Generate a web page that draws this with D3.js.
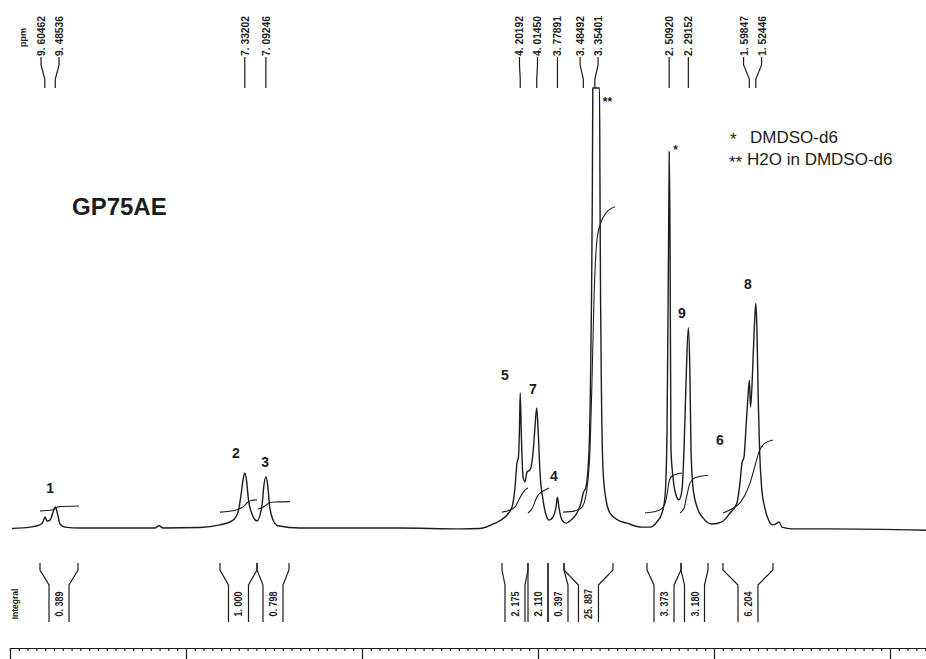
<!DOCTYPE html>
<html>
<head>
<meta charset="utf-8">
<script src="https://cdn.jsdelivr.net/npm/d3@7/dist/d3.min.js"></script>
<style>
body { margin: 0; background: #fff; }
svg { display: block; font-family: "Liberation Sans", Arial, sans-serif; }
</style>
</head>
<body>
<div id="spectrum"></div>
<script>
// Traced 1H spectrum: shift (ppm) and relative intensity
const specPpm = [9.977, 9.773, 9.659, 9.625, 9.602, 9.580, 9.545, 9.511, 9.485, 9.460, 9.432, 9.375, 9.205,
    8.352, 8.307, 8.261, 7.841, 7.614, 7.477, 7.409, 7.375, 7.352, 7.332, 7.313, 7.290, 7.250, 7.193,
    7.136, 7.114, 7.092, 7.072, 7.051, 7.011, 6.955, 6.705, 5.568, 4.886,
    4.659, 4.489, 4.375, 4.295, 4.261, 4.239, 4.222, 4.210, 4.202, 4.190, 4.170, 4.148, 4.125, 4.091,
    4.057, 4.034, 4.015, 3.997, 3.977, 3.943, 3.909, 3.875, 3.830, 3.795, 3.779, 3.761, 3.727, 3.682,
    3.625, 3.557, 3.511, 3.485, 3.455, 3.420, 3.403, 3.392, 3.383, 3.377, 3.301, 3.295, 3.289, 3.278,
    3.261, 3.227, 3.182, 3.091, 2.989, 2.818, 2.727, 2.648, 2.591, 2.557, 2.534, 2.517, 2.508, 2.499,
    2.489, 2.466, 2.432, 2.398, 2.364, 2.341, 2.318, 2.292, 2.275, 2.261, 2.239, 2.193, 2.125, 2.023,
    1.909, 1.818, 1.739, 1.705, 1.682, 1.659, 1.636, 1.614, 1.598, 1.585, 1.568, 1.550, 1.535, 1.524,
    1.512, 1.497, 1.482, 1.459, 1.425, 1.380, 1.330, 1.284, 1.261, 1.227, 1.114, 0.682, -0.409];
const specInt = [-0.1, 0.2, 0.7, 1.4, 2.5, 1.6, 1.8, 3.6, 4.8, 3.2, 0.9, 0.2, 0,
    0, 0.5, 0, 0.1, 0.7, 1.6, 3.6, 7.5, 10.9, 12.5, 10.9, 6.4, 3.2, 1.6,
    5.2, 9.8, 11.6, 9.8, 5.2, 1.8, 0.5, 0, 0, -0.2,
    -0.1, 1.1, 2.5, 4.8, 9.3, 14.8, 16.1, 23.0, 30.7, 21.6, 11.6, 10.5, 12.7, 13.2,
    17.0, 23.0, 27.3, 21.6, 12.5, 6.4, 3.0, 1.8, 2.5, 4.8, 7.0, 4.5, 1.8, 1.1,
    1.8, 3.4, 5.7, 8.0, 9.3, 17.7, 33.6, 51.8, 74.5, 100, 100, 74.5, 51.8, 29.1,
    13.2, 6.4, 3.4, 1.8, 1.1, 0.2, 0.2, 1.4, 3.4, 7.0, 21.6, 63.2, 85.5, 63.2,
    17.7, 11.6, 7.5, 6.4, 8.6, 17.7, 33.0, 45.5, 36.6, 17.7, 9.3, 4.8, 2.3, 0.9,
    1.4, 3.4, 5.7, 10.2, 14.8, 16.1, 23.0, 29.8, 33.6, 27.5, 32.5, 41.6, 48.4, 51.1,
    45.0, 29.1, 17.7, 9.3, 4.8, 1.8, 0.7, 1.1, 1.4, 0.2, -0.2, -0.2, -0.5];

// Integral traces drawn over the peaks
const integralPpm = [
    [9.659, 9.523, 9.489, 9.455, 9.216],
    [7.614, 7.432, 7.352, 7.295, 7.250, 7.193],
    [7.182, 7.125, 7.091, 7.057, 6.989, 6.818],
    [4.409, 4.318, 4.261, 4.216, 4.182, 4.148, 4.114],
    [4.114, 4.057, 4.023, 3.989, 3.943, 3.875],
    [3.716, 3.580, 3.511, 3.466, 3.432, 3.409, 3.386, 3.364, 3.330, 3.284, 3.227, 3.125],
    [2.784, 2.636, 2.568, 2.534, 2.511, 2.477, 2.364],
    [2.386, 2.341, 2.307, 2.273, 2.216, 2.068],
    [1.898, 1.784, 1.705, 1.648, 1.591, 1.534, 1.489, 1.432, 1.330]
];
const integralInt = [
    [3.9, 4.1, 4.4, 4.8, 5.0],
    [3.6, 4.1, 4.8, 5.9, 6.3, 6.4],
    [4.3, 4.7, 5.2, 5.7, 5.9, 6.0],
    [3.6, 4.1, 4.8, 6.4, 7.7, 8.6, 9.1],
    [3.4, 4.8, 6.6, 7.7, 8.4, 9.1],
    [3.6, 3.9, 4.5, 6.4, 10.9, 17.7, 33.6, 51.8, 65.5, 69.5, 71.6, 73.0],
    [3.4, 3.9, 5.0, 7.5, 10.5, 11.8, 12.5],
    [3.4, 4.5, 7.5, 10.2, 11.4, 12.0],
    [3.4, 4.5, 5.7, 7.5, 10.2, 14.1, 17.3, 19.1, 20.0]
];

// Integration regions and their values
const regionFrom = [9.659, 7.614, 7.193, 4.409, 4.114, 3.886, 3.705, 2.761, 2.375, 1.898];
const regionTo = [9.227, 7.193, 6.830, 4.114, 3.886, 3.705, 3.148, 2.375, 2.068, 1.330];
const regionValues = ["0.389", "1.000", "0.798", "2.175", "2.110", "0.397", "25.887", "3.373", "3.180", "6.204"];

// Picked peaks
const pickedPeaks = [9.60462, 9.48536, 7.33202, 7.09246, 4.20192, 4.01450, 3.77891, 3.48492, 3.35401,
    2.50920, 2.29152, 1.59847, 1.52446];

// Assignment numbers (ppm, intensity where they sit)
const numLabels = ["1", "2", "3", "4", "5", "6", "7", "8", "9"];
const numPpm = [9.545, 7.432, 7.102, 3.818, 4.375, 1.932, 4.057, 1.614, 2.364];
const numInt = [8.0, 15.9, 13.9, 10.7, 33.6, 18.9, 30.5, 54.3, 47.7];

const width = 926, height = 659;
const ink = "#1c1c1c";

const svg = d3.select("#spectrum")
    .append("svg")
        .attr("width", width)
        .attr("height", height);

const x = d3.scaleLinear().domain([10, 0]).range([10, 890]);
const y = d3.scaleLinear().domain([0, 100]).range([528, 88]);

// spectrum
const line = d3.line()
    .curve(d3.curveMonotoneX)
    .x(d => x(d[0]))
    .y(d => y(d[1]));

svg.append("path")
    .datum(specPpm.map((p, i) => [p, specInt[i]]).reverse())
    .attr("fill", "none")
    .attr("stroke", ink)
    .attr("stroke-width", 1.4)
    .attr("stroke-linejoin", "round")
    .attr("d", line);

// integral curves
svg.selectAll(".integral")
    .data(integralPpm.map((ps, k) => ps.map((p, i) => [p, integralInt[k][i]]).reverse()))
    .enter().append("path")
    .attr("fill", "none")
    .attr("stroke", ink)
    .attr("stroke-width", 1.1)
    .attr("d", line);

// peak pick labels along the top
let labelX = pickedPeaks.map(p => x(p));
const minGap = 18;
let groups = [];
labelX.forEach((lx, i) => {
    let g = groups[groups.length - 1];
    if (g && lx - labelX[g[g.length - 1]] < minGap) g.push(i); else groups.push([i]);
});
let placedX = labelX.slice();
groups.forEach(g => {
    if (g.length < 2) return;
    const mid = d3.mean(g, i => labelX[i]);
    g.forEach((i, k) => { placedX[i] = mid + (k - (g.length - 1) / 2) * minGap; });
});

const picks = svg.append("g");
pickedPeaks.forEach((p, i) => {
    const tx = placedX[i], px = labelX[i];
    picks.append("path")
        .attr("fill", "none")
        .attr("stroke", ink)
        .attr("stroke-width", 1.2)
        .attr("d", `M${tx},57 L${tx},65 L${px},79 L${px},88`);
    picks.append("text")
        .attr("transform", `translate(${tx},56) rotate(-90)`)
        .attr("dominant-baseline", "central")
        .attr("font-size", 11)
        .attr("font-weight", "bold")
        .attr("textLength", 40)
        .attr("lengthAdjust", "spacingAndGlyphs")
        .attr("fill", ink)
        .text(d3.format(".5f")(p).replace(".", ". "));
});
picks.append("text")
    .attr("transform", "translate(23,47) rotate(-90)")
    .attr("dominant-baseline", "central")
    .attr("font-size", 9)
    .attr("font-weight", "bold")
    .attr("fill", ink)
    .text("ppm");

// integral brackets and values
const brackets = svg.append("g");
let prevRight = -Infinity;
regionValues.forEach((v, i) => {
    const x1 = x(regionFrom[i]), x2 = x(regionTo[i]);
    let left = Math.max((x1 + x2) / 2 - 10, prevRight);
    let right = left + 20;
    prevRight = right;
    brackets.append("path")
        .attr("fill", "none")
        .attr("stroke", ink)
        .attr("stroke-width", 1.2)
        .attr("d", `M${x1},563 L${x1},570 L${left},585 L${left},622 M${x2},563 L${x2},570 L${right},585 L${right},622`);
    brackets.append("text")
        .attr("transform", `translate(${(left + right) / 2},604) rotate(-90)`)
        .attr("text-anchor", "middle")
        .attr("dominant-baseline", "central")
        .attr("font-size", 10.5)
        .attr("font-weight", "bold")
        .attr("textLength", v.length > 5 ? 30 : 25)
        .attr("lengthAdjust", "spacingAndGlyphs")
        .attr("fill", ink)
        .text(v.replace(".", ". "));
});
brackets.append("text")
    .attr("transform", "translate(15,604) rotate(-90)")
    .attr("text-anchor", "middle")
    .attr("dominant-baseline", "central")
    .attr("font-size", 8.5)
    .attr("font-weight", "bold")
    .attr("fill", ink)
    .text("Integral");

// ppm axis
const xAxis = d3.scaleLinear().domain([10, 10 - 916 / 88]).range([10, 926]);
const minorTicks = d3.range(0, 105).map(k => +(10 - k * 0.1).toFixed(1));
const axisG = svg.append("g")
    .attr("transform", "translate(0,648)")
    .call(d3.axisBottom(xAxis).tickValues(minorTicks).tickSize(3).tickSizeOuter(0).tickFormat(""));
axisG.append("g")
    .call(d3.axisBottom(xAxis).tickValues([10, 8, 6, 4, 2, 0]).tickSize(14).tickSizeOuter(0).tickFormat(""));
axisG.selectAll("path, line").attr("stroke", ink).attr("stroke-width", 1.2);

// assignment numbers
svg.selectAll(".num")
    .data(numLabels)
    .enter().append("text")
    .attr("x", (d, i) => x(numPpm[i]))
    .attr("y", (d, i) => y(numInt[i]))
    .attr("text-anchor", "middle")
    .attr("font-size", 14)
    .attr("font-weight", "bold")
    .attr("fill", ink)
    .text(d => d);

// solvent marks
svg.append("text")
    .attr("x", x(2.50920) + 4).attr("y", y(85.5) + 2)
    .attr("font-size", 12).attr("font-weight", "bold").attr("fill", ink)
    .text("*");
svg.append("text")
    .attr("x", x(3.35401) + 8).attr("y", 106)
    .attr("font-size", 12).attr("font-weight", "bold").attr("fill", ink)
    .text("**");

// sample name and legend
svg.append("text")
    .attr("x", 72).attr("y", 215)
    .attr("font-size", 24).attr("font-weight", "bold").attr("fill", ink)
    .text("GP75AE");
svg.append("text")
    .attr("x", 730).attr("y", 145)
    .attr("font-size", 17).attr("fill", ink)
    .text("*");
svg.append("text")
    .attr("x", 750).attr("y", 143)
    .attr("font-size", 17).attr("fill", ink)
    .text("DMDSO-d6");
svg.append("text")
    .attr("x", 729).attr("y", 168)
    .attr("font-size", 17).attr("fill", ink)
    .text("**");
svg.append("text")
    .attr("x", 747).attr("y", 165)
    .attr("font-size", 17).attr("fill", ink)
    .text("H2O in DMDSO-d6");
</script>
</body>
</html>
